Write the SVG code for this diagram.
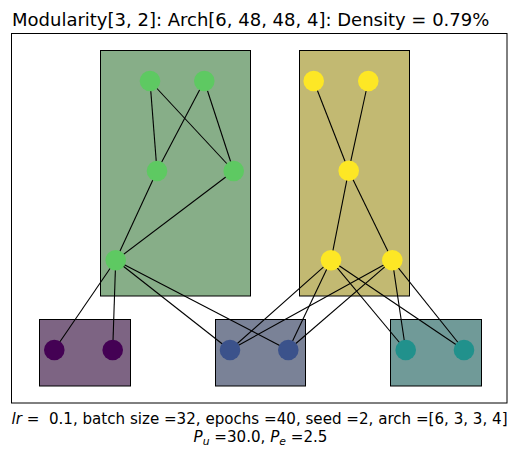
<svg xmlns="http://www.w3.org/2000/svg" width="518" height="459" viewBox="0 0 518 459">
<style>
  text { font-family: "DejaVu Sans", "Liberation Sans", sans-serif; fill: #000; }
  .title { font-size: 18px; }
  .label { font-size: 15.1px; }
  .frame { fill: none; stroke: #000; stroke-width: 1; }
  .box { stroke: #000; stroke-width: 1; }
  .edge { stroke: #000; stroke-width: 1.1; fill: none; }
  .n-purple { fill: #440154; }
  .n-blue { fill: #3b528b; }
  .n-teal { fill: #21918c; }
  .n-green { fill: #5ec962; }
  .n-yellow { fill: #fde725; }
</style>
<rect x="0" y="0" width="518" height="459" fill="#ffffff"/>
<text class="title" x="12" y="25.7">Modularity[3, 2]: Arch[6, 48, 48, 4]: Density = 0.79%</text>
<rect class="frame" x="11.5" y="33.5" width="495.5" height="369.5"/>

<g id="modules">
  <g id="module-green"><rect class="box" x="100.5" y="50.5" width="150" height="245.5" fill="#87ae88"/></g>
  <g id="module-yellow"><rect class="box" x="299.5" y="50.5" width="110" height="245.5" fill="#c2b972"/></g>
  <g id="module-purple"><rect class="box" x="39.5" y="319.5" width="91" height="66.5" fill="#7d6483"/></g>
  <g id="module-blue"><rect class="box" x="215.5" y="319.5" width="90" height="66.5" fill="#7a8297"/></g>
  <g id="module-teal"><rect class="box" x="390.5" y="319.5" width="91" height="66.5" fill="#709a98"/></g>
</g>

<g id="connectors">
  <line class="edge" x1="150" y1="81" x2="157" y2="171"/>
  <line class="edge" x1="150" y1="81" x2="233.7" y2="171"/>
  <line class="edge" x1="204.3" y1="81" x2="157" y2="171"/>
  <line class="edge" x1="204.3" y1="81" x2="233.7" y2="171"/>
  <line class="edge" x1="157" y1="171" x2="115.7" y2="260.3"/>
  <line class="edge" x1="233.7" y1="171" x2="115.7" y2="260.3"/>
  <line class="edge" x1="115.7" y1="260.3" x2="54.3" y2="350"/>
  <line class="edge" x1="115.7" y1="260.3" x2="112.7" y2="350"/>
  <line class="edge" x1="115.7" y1="260.3" x2="230" y2="350"/>
  <line class="edge" x1="115.7" y1="260.3" x2="288.3" y2="350"/>
  <line class="edge" x1="313.7" y1="81" x2="348.7" y2="170.7"/>
  <line class="edge" x1="368.3" y1="81" x2="348.7" y2="170.7"/>
  <line class="edge" x1="348.7" y1="170.7" x2="331" y2="260.3"/>
  <line class="edge" x1="348.7" y1="170.7" x2="392.3" y2="260.3"/>
  <line class="edge" x1="331" y1="260.3" x2="230" y2="350"/>
  <line class="edge" x1="331" y1="260.3" x2="288.3" y2="350"/>
  <line class="edge" x1="331" y1="260.3" x2="405.7" y2="350"/>
  <line class="edge" x1="331" y1="260.3" x2="464" y2="350"/>
  <line class="edge" x1="392.3" y1="260.3" x2="230" y2="350"/>
  <line class="edge" x1="392.3" y1="260.3" x2="288.3" y2="350"/>
  <line class="edge" x1="392.3" y1="260.3" x2="405.7" y2="350"/>
  <line class="edge" x1="392.3" y1="260.3" x2="464" y2="350"/>
</g>

<g id="node-g0"><circle class="n-green" cx="150" cy="81" r="10.3"/></g>
<g id="node-g1"><circle class="n-green" cx="204.3" cy="81" r="10.3"/></g>
<g id="node-g2"><circle class="n-green" cx="157" cy="171" r="10.3"/></g>
<g id="node-g3"><circle class="n-green" cx="233.7" cy="171" r="10.3"/></g>
<g id="node-g4"><circle class="n-green" cx="115.7" cy="260.3" r="10.3"/></g>
<g id="node-y0"><circle class="n-yellow" cx="313.7" cy="81" r="10.3"/></g>
<g id="node-y1"><circle class="n-yellow" cx="368.3" cy="81" r="10.3"/></g>
<g id="node-y2"><circle class="n-yellow" cx="348.7" cy="170.7" r="10.3"/></g>
<g id="node-y3"><circle class="n-yellow" cx="331" cy="260.3" r="10.3"/></g>
<g id="node-y4"><circle class="n-yellow" cx="392.3" cy="260.3" r="10.3"/></g>
<g id="node-p0"><circle class="n-purple" cx="54.3" cy="350" r="10.3"/></g>
<g id="node-p1"><circle class="n-purple" cx="112.7" cy="350" r="10.3"/></g>
<g id="node-b0"><circle class="n-blue" cx="230" cy="350" r="10.3"/></g>
<g id="node-b1"><circle class="n-blue" cx="288.3" cy="350" r="10.3"/></g>
<g id="node-t0"><circle class="n-teal" cx="405.7" cy="350" r="10.3"/></g>
<g id="node-t1"><circle class="n-teal" cx="464" cy="350" r="10.3"/></g>

<text class="label" x="259.5" y="424" text-anchor="middle" xml:space="preserve"><tspan font-style="italic">lr</tspan> =  0.1, batch size =32, epochs =40, seed =2, arch =[6, 3, 3, 4]</text>
<text class="label" x="260.5" y="442" text-anchor="middle"><tspan font-style="italic">P</tspan><tspan font-style="italic" font-size="10.8px" dy="3">u</tspan><tspan dy="-3"> =30.0, </tspan><tspan font-style="italic">P</tspan><tspan font-style="italic" font-size="10.8px" dy="3">e</tspan><tspan dy="-3"> =2.5</tspan></text>
</svg>
